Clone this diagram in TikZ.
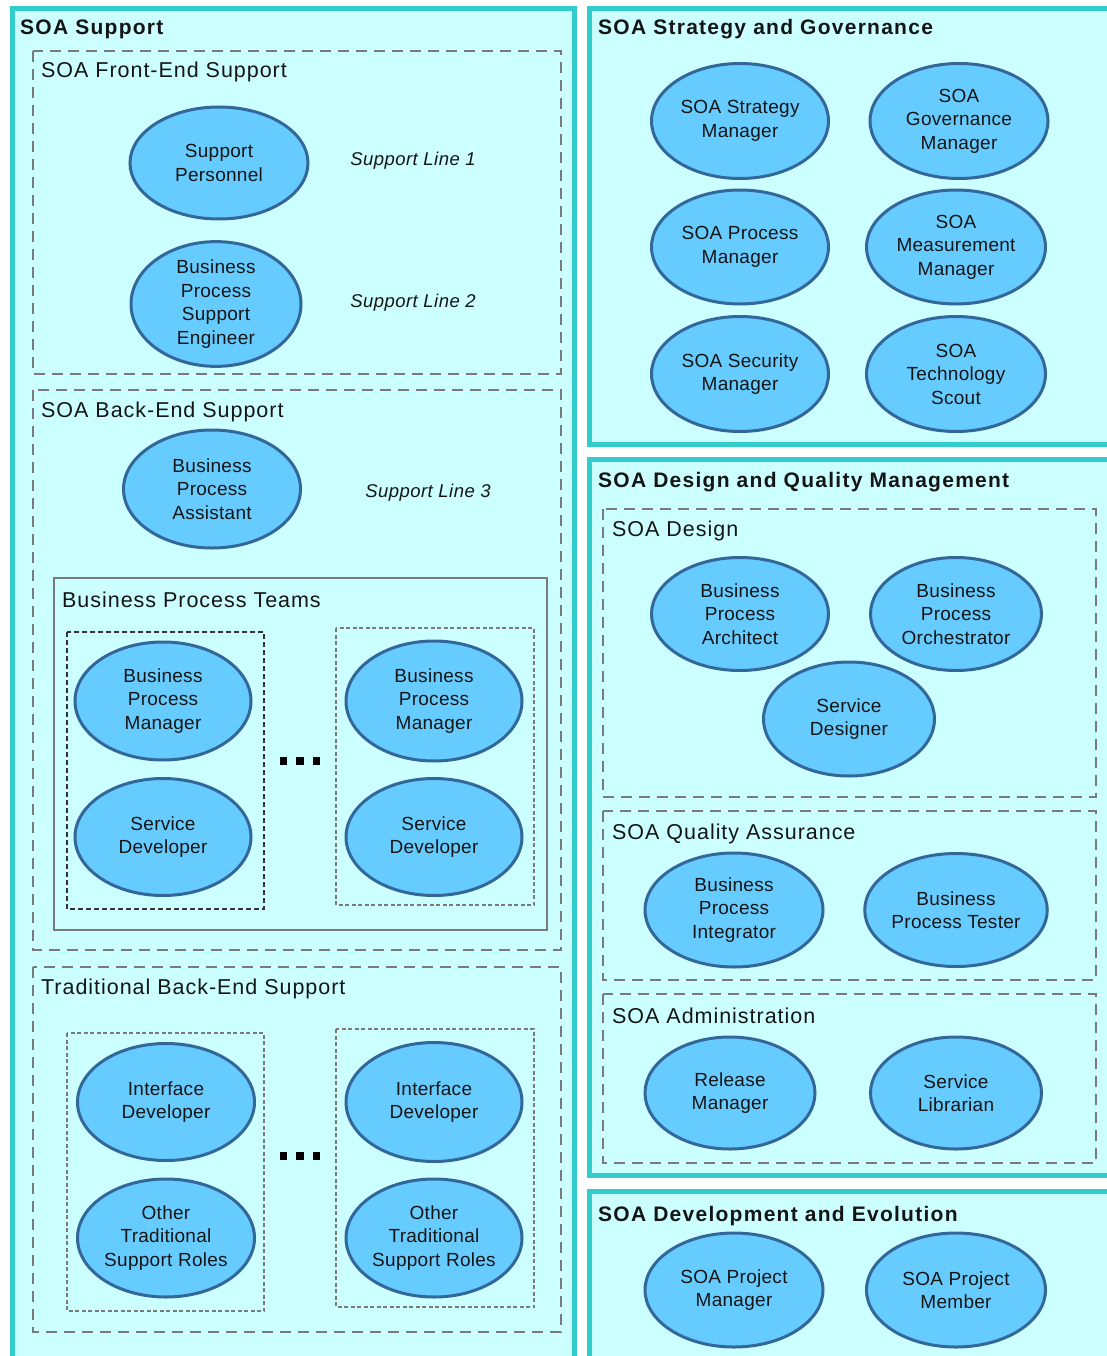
\documentclass[tikz,border=0pt]{standalone}
\usepackage{fontspec}
\setmainfont{Liberation Sans}[LetterSpace=1.5]
\newfontfamily\titlefont{Liberation Sans}[LetterSpace=6]
\newfontfamily\subfont{Liberation Sans}[LetterSpace=4.5]
\newfontfamily\linefont{Liberation Sans}[LetterSpace=2.5]
\usetikzlibrary{shapes.geometric}
\definecolor{bgc}{HTML}{CCFFFF}
\definecolor{teal1}{HTML}{33CCCC}
\definecolor{ellf}{HTML}{66CCFF}
\definecolor{elld}{HTML}{336699}
\definecolor{txt}{HTML}{151515}
\definecolor{dgray}{HTML}{7A7A7A}
\tikzset{
  panel/.style={draw=teal1, line width=5pt, fill=bgc},
  grp/.style={draw=dgray, line width=1.4pt, dash pattern=on 11pt off 7pt},
  teamblack/.style={draw=black!80, line width=1.4pt, dash pattern=on 5pt off 3pt},
  teamgray/.style={draw=dgray, line width=1.2pt, dash pattern=on 4pt off 2.5pt},
  solidgrp/.style={draw=dgray, line width=1.4pt},
  role/.style={ellipse, draw=elld, line width=3pt, fill=ellf, inner sep=0pt,
    align=center, text=txt, font=\fontsize{19}{23.5}\selectfont},
  ptitle/.style={anchor=base west, inner sep=0pt, text=txt, font=\titlefont\bfseries\fontsize{21}{24}\selectfont},
  gtitle/.style={anchor=base west, inner sep=0pt, text=txt, font=\subfont\fontsize{21.5}{25}\selectfont},
  line/.style={inner sep=0pt, text=txt, font=\linefont\itshape\fontsize{18.5}{22}\selectfont},
  dotsq/.style={fill=black, minimum size=7.5pt, inner sep=0pt, rectangle}
}
\newcommand{\role}[6]{\node[role, minimum width=#4pt, minimum height=#5pt] (#1) at (#2,#3) {#6};}
\begin{document}
\begin{tikzpicture}[x=1pt,y=-1pt]
\useasboundingbox (0,0) rectangle (1107,1356);
\clip (0,0) rectangle (1107,1356);
\fill[white] (0,0) rectangle (1107,1356);
% panels
\draw[panel] (12,8.5) rectangle (574.5,1380);
\draw[panel] (589.5,8.5) rectangle (1130,444);
\draw[panel] (589.5,459.5) rectangle (1130,1175.5);
\draw[panel] (589.5,1191) rectangle (1130,1380);
\node[ptitle] (t1) at (20,35) {SOA Support};
\node[ptitle] (t2) at (598,35) {SOA Strategy and Governance};
\node[ptitle] (t3) at (598,487) {SOA Design and Quality Management};
\node[ptitle] (t4) at (598,1221) {SOA Development and Evolution};
% left groups
\draw[grp] (33,51) rectangle (561,374);
\node[gtitle] (g1) at (41,78) {SOA Front-End Support};
\draw[grp] (33,390) rectangle (561,950);
\node[gtitle] (g2) at (41,417) {SOA Back-End Support};
\draw[solidgrp] (54,578) rectangle (547,930);
\node[gtitle] (g3) at (62,607) {Business Process Teams};
\draw[teamblack] (67,632) rectangle (264,909);
\draw[teamgray] (336,628) rectangle (534,905);
\draw[grp] (33,967) rectangle (561,1332);
\node[gtitle] (g4) at (41,994) {Traditional Back-End Support};
\draw[teamgray] (67,1033) rectangle (264,1311);
\draw[teamgray] (336,1029) rectangle (534,1307);
% right groups
\draw[grp] (603,509) rectangle (1096,797);
\node[gtitle] (g5) at (612,536) {SOA Design};
\draw[grp] (603,811) rectangle (1096,980);
\node[gtitle] (g6) at (612,839) {SOA Quality Assurance};
\draw[grp] (603,994) rectangle (1096,1163);
\node[gtitle] (g7) at (612,1023) {SOA Administration};
% support lines
\node[line] (l1) at (413,161) {Support Line 1};
\node[line] (l2) at (413,303) {Support Line 2};
\node[line] (l3) at (428,493) {Support Line 3};
% dots
\foreach \i/\xx in {a/283.5,b/300,c/316.5}{
  \node[dotsq] (d1\i) at (\xx,761) {};
  \node[dotsq] (d2\i) at (\xx,1156) {};
}
% roles left
\role{sp}{219}{163}{178}{112}{Support\\Personnel}
\role{bpse}{216}{304}{170}{114}{Business\\Process\\Support\\Engineer}
\role{bpa}{212}{489}{177}{118}{Business\\Process\\Assistant}
\role{bpma}{163}{701}{176}{118}{Business\\Process\\Manager}
\role{sda}{163}{837}{176}{117}{Service\\Developer}
\role{bpmb}{434}{701}{176}{120}{Business\\Process\\Manager}
\role{sdb}{434}{837}{176}{117}{Service\\Developer}
\role{ida}{166}{1102}{177}{117}{Interface\\Developer}
\role{ota}{166}{1238}{177}{118}{Other\\Traditional\\Support Roles}
\role{idb}{434}{1102}{176}{119}{Interface\\Developer}
\role{otb}{434}{1238}{176}{118}{Other\\Traditional\\Support Roles}
% roles right
\role{ssm}{740}{121}{177}{115}{SOA Strategy\\Manager}
\role{sgm}{959}{121}{178}{115}{SOA\\Governance\\Manager}
\role{spm}{740}{247}{177}{114}{SOA Process\\Manager}
\role{smm}{956}{247}{179}{114}{SOA\\Measurement\\Manager}
\role{ssec}{740}{374}{177}{115}{SOA Security\\Manager}
\role{sts}{956}{374}{179}{115}{SOA\\Technology\\Scout}
\role{bparch}{740}{614}{177}{113}{Business\\Process\\Architect}
\role{bporch}{956}{614}{171}{113}{Business\\Process\\Orchestrator}
\role{sdes}{849}{719}{171}{114}{Service\\Designer}
\role{bpi}{734}{910}{178}{114}{Business\\Process\\Integrator}
\role{bpt}{956}{910}{171}{113}{Business\\Process Tester}
\role{rm}{730}{1093}{170}{112}{Release\\Manager}
\role{sl}{956}{1093}{171}{112}{Service\\Librarian}
\role{spmgr}{734}{1290}{178}{114}{SOA Project\\Manager}
\role{spmem}{956}{1290}{179}{114}{SOA Project\\Member}
\end{tikzpicture}
\end{document}
